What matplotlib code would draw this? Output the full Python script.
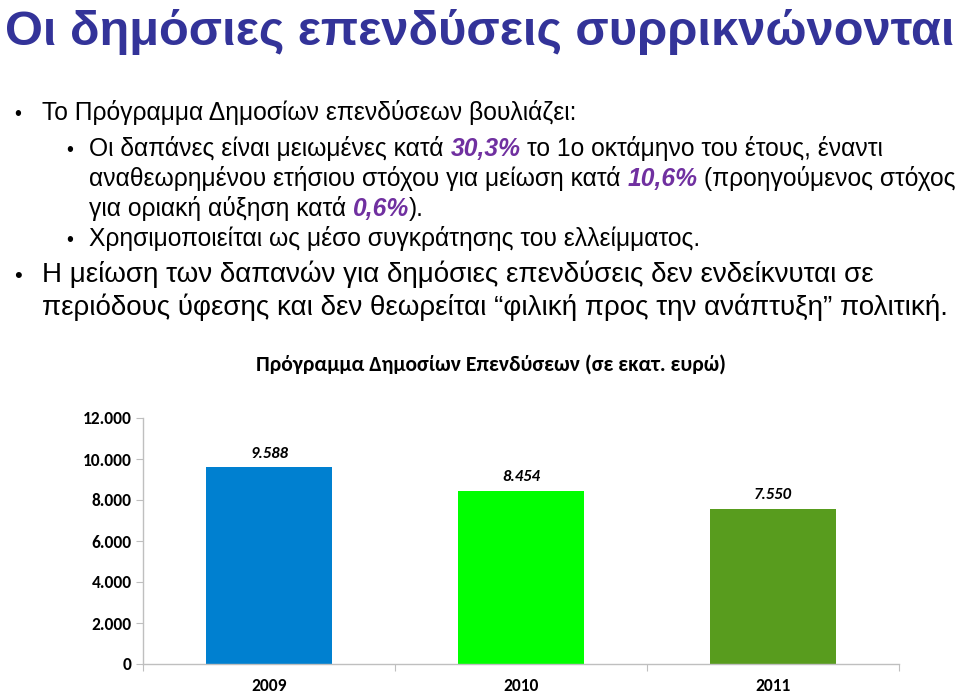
import matplotlib
matplotlib.use('Agg')
import matplotlib.pyplot as plt
from matplotlib import font_manager

######################################################################

years = ['2009', '2010', '2011']
spending = [9588, 8454, 7550]
value_labels = ['9.588', '8.454', '7.550']
yticks = [0, 2000, 4000, 6000, 8000, 10000, 12000]
ytick_labels = ['0', '2.000', '4.000', '6.000', '8.000', '10.000', '12.000']

slide_title = 'Οι δημόσιες επενδύσεις συρρικνώνονται'
chart_title = 'Πρόγραμμα Δημοσίων Επενδύσεων (σε εκατ. ευρώ)'
intro_line = 'Το Πρόγραμμα Δημοσίων επενδύσεων βουλιάζει:'
# (text, highlighted) pieces per line
sub_lines = [
    [('Οι δαπάνες είναι μειωμένες κατά ', False), ('30,3%', True),
     (' το 1ο οκτάμηνο του έτους, έναντι', False)],
    [('αναθεωρημένου ετήσιου στόχου για μείωση κατά ', False), ('10,6%', True),
     (' (προηγούμενος στόχος', False)],
    [('για οριακή αύξηση κατά ', False), ('0,6%', True), (').', False)],
    [('Χρησιμοποιείται ως μέσο συγκράτησης του ελλείμματος.', False)],
]
closing_lines = ['Η μείωση των δαπανών για δημόσιες επενδύσεις δεν ενδείκνυται σε',
                 'περιόδους ύφεσης και δεν θεωρείται “φιλική προς την ανάπτυξη” πολιτική.']

######################################################################

bar_colors = ['#0080D0', '#00FF00', '#589C1E']
title_color = '#333399'
highlight_color = '#7030A0'
axis_color = '#BFBFBF'

installed = {f.name for f in font_manager.fontManager.ttflist}
def pick(*names):
    return [n for n in names if n in installed] + ['DejaVu Sans']
BODY = pick('Liberation Sans', 'Arial')
CHART = pick('Carlito', 'Calibri', 'Lato', 'Open Sans')

W, H = 960, 692
fig = plt.figure(figsize=(W / 100, H / 100), dpi=100)
renderer = fig.canvas.get_renderer()

def fx(x):
    return x / W

def fy(y):
    return 1 - y / H

def text_width(s, **kw):
    t = fig.text(0, 0, s, **kw)
    w = t.get_window_extent(renderer).width
    t.remove()
    return w

def layout(pieces, size):
    sp = text_width('a a', fontsize=size, family=BODY) - text_width('aa', fontsize=size, family=BODY)
    items, total = [], 0.0
    for s, hl in pieces:
        kw = dict(fontsize=size, family=BODY, color='black')
        if hl:
            kw.update(weight='bold', style='italic', color=highlight_color)
        core = s.strip(' ')
        total += (len(s) - len(s.lstrip(' '))) * sp
        items.append((core, total, kw))
        total += text_width(core, **kw) + (len(s) - len(s.rstrip(' '))) * sp
    return items, total

def fit_size(pieces, target, base=16):
    _, total = layout(pieces, base)
    return base * target / total

def draw_line(pieces, x0, baseline, size):
    items, _ = layout(pieces, size)
    for core, off, kw in items:
        fig.text(fx(x0 + off), fy(baseline), core, va='baseline', ha='left', **kw)

def bullet(x, baseline, size):
    fig.text(fx(x), fy(baseline), '•', va='baseline', ha='center', fontsize=size * 0.8, family=BODY)

# Slide title
tsize = 40 * 950 / text_width(slide_title, fontsize=40, family=BODY, weight='bold')
fig.text(fx(5), fy(45), slide_title, fontsize=tsize, family=BODY, weight='bold',
         color=title_color, va='baseline', ha='left')

# Bullet text
s_sub = fit_size(sub_lines[1], 865)
bullet(18, 120, s_sub)
draw_line([(intro_line, False)], 42, 120, s_sub)

sub_baselines = [156, 186, 216, 246]
for i, line in enumerate(sub_lines):
    if i in (0, 3):
        bullet(70, sub_baselines[i], s_sub)
    draw_line(line, 89, sub_baselines[i], s_sub)

s_close = fit_size([(closing_lines[1], False)], 904)
bullet(18, 282, s_close)
for line, base in zip(closing_lines, [282, 315]):
    draw_line([(line, False)], 42, base, s_close)

# Chart title
csize = 14 * 472 / text_width(chart_title, fontsize=14, family=CHART, weight='bold')
fig.text(fx(491), fy(371), chart_title, fontsize=csize, family=CHART, weight='bold',
         va='baseline', ha='center')

######################################################################
# Bar chart

ax = fig.add_axes([fx(143), fy(664), (899 - 143) / W, (664 - 418) / H])
pos = list(range(len(years)))
bars = ax.bar(pos, spending, 0.5, color=bar_colors, zorder=2)
ax.set_xlim(-0.5, len(years) - 0.5)
ax.set_ylim(0, 12000)
ax.set_yticks(yticks)
ax.set_yticklabels(ytick_labels, family=CHART, weight='bold', fontsize=12.5)
ax.set_xticks([p - 0.5 for p in pos] + [len(years) - 0.5])
ax.set_xticklabels([])
ax.set_xticks(pos, minor=True)
ax.set_xticklabels(years, minor=True, family=CHART, weight='bold', fontsize=12.5)
ax.tick_params(axis='x', which='minor', length=0, pad=10)
ax.tick_params(axis='x', which='major', length=5, color=axis_color, direction='out')
ax.tick_params(axis='y', length=5, color=axis_color, direction='out', pad=3)
for side in ('top', 'right'):
    ax.spines[side].set_visible(False)
for side in ('left', 'bottom'):
    ax.spines[side].set_color(axis_color)
    ax.spines[side].set_linewidth(1)
for rect, lab in zip(bars, value_labels):
    ax.annotate(lab, (rect.get_x() + rect.get_width() / 2, rect.get_height()),
                xytext=(0, 5), textcoords='offset points', ha='center', va='bottom',
                family=CHART, weight='bold', style='italic', fontsize=12)

fig.savefig('out.png', dpi=100)
